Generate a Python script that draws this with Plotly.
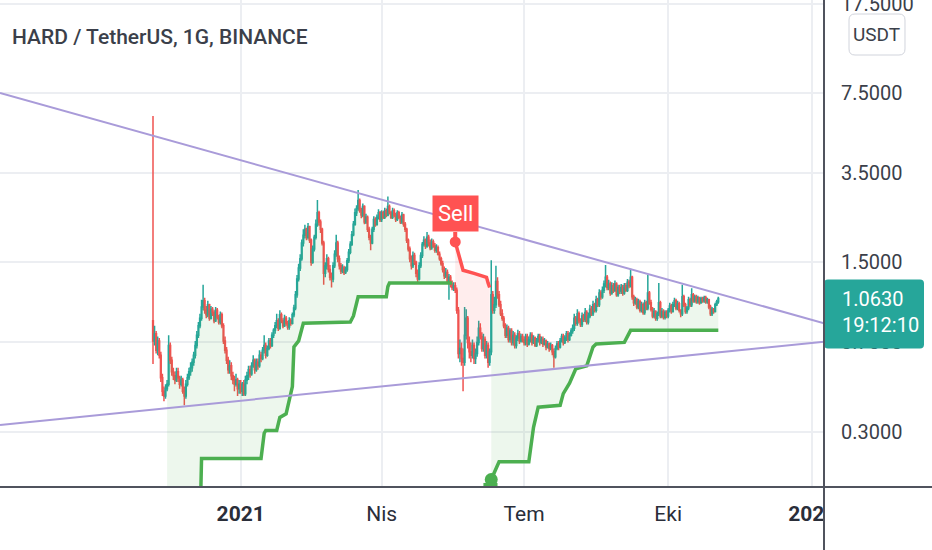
import numpy as np
import pandas as pd
import plotly.graph_objects as go

# HARD / USDT daily candles, 6 Nov 2020 -> 2 Nov 2021
first_open = 0.86
close_px = [
    0.71,0.76,0.65,0.71,0.62,0.50,0.44,0.42,0.45,0.47,0.68,0.59,0.53,0.51,0.49,0.53,0.50,0.47,0.49,0.44,0.42,0.47,0.50,0.53,0.55,
    0.58,0.62,0.68,0.75,0.82,0.88,0.98,1.04,0.95,0.91,1.00,0.88,0.96,0.93,0.86,0.95,0.89,0.85,0.91,0.82,0.71,0.65,0.59,0.54,0.56,0.51,0.49,0.47,0.49,0.45,0.47,
    0.44,0.47,0.43,0.49,0.51,0.54,0.52,0.56,0.59,0.54,0.58,0.56,0.62,0.60,0.65,0.68,0.62,0.66,0.71,0.68,0.75,0.785,0.82,0.86,0.80,0.91,0.86,0.82,0.88,0.84,0.81,
    0.86,0.84,0.91,0.97,1.10,1.28,1.42,1.55,1.80,1.94,2.05,1.90,2.10,1.85,1.50,1.70,1.90,2.15,2.40,2.20,2.05,1.80,1.35,1.45,1.55,1.40,1.30,1.28,
    1.45,1.62,1.80,1.55,1.45,1.38,1.42,1.36,1.40,1.52,1.65,1.78,1.95,2.15,2.40,2.50,2.70,2.45,2.35,2.55,2.20,2.30,2.05,1.90,1.80,2.05,2.25,2.15,2.30,2.40,2.25,
    2.40,2.30,2.45,2.35,2.55,2.40,2.30,2.45,2.35,2.25,2.40,2.30,2.20,2.35,2.15,2.05,1.85,1.70,1.55,1.45,1.60,1.50,1.35,1.28,1.45,1.60,1.78,1.85,1.75,1.90,
    1.80,1.72,1.82,1.75,1.68,1.72,1.62,1.55,1.48,1.40,1.32,1.36,1.25,1.30,1.22,1.18,1.20,1.15,0.95,0.63,0.66,0.60,0.58,0.75,0.88,0.70,0.64,0.62,0.68,0.60,0.63,
    0.70,0.80,0.74,0.66,0.72,0.62,0.68,0.58,0.64,1.10,0.95,1.00,1.25,1.10,1.00,0.92,0.88,0.82,0.75,0.80,0.72,0.78,0.70,0.75,0.68,0.73,0.76,0.71,0.74,0.72,
    0.70,0.74,0.69,0.72,0.75,0.70,0.73,0.68,0.71,0.74,0.70,0.72,0.69,0.71,0.67,0.69,0.66,0.68,0.64,0.61,0.66,0.69,0.67,0.71,0.74,0.70,0.73,0.76,0.72,0.75,0.78,
    0.80,0.88,0.84,0.92,0.86,0.83,0.90,0.87,0.93,0.85,0.90,0.96,0.92,1.00,0.95,1.05,1.00,1.12,1.08,1.15,1.22,1.30,1.18,1.22,1.12,1.20,1.15,1.22,1.10,1.18,1.14,
    1.18,1.12,1.20,1.15,1.24,1.20,1.30,1.08,1.02,1.05,0.98,1.03,0.95,1.00,0.93,1.02,0.97,1.12,1.02,0.96,0.90,0.94,0.88,0.92,1.02,0.90,0.94,0.89,0.93,0.90,
    0.95,0.99,0.94,1.00,1.04,0.97,1.01,0.95,0.92,1.08,1.00,0.94,0.97,1.05,1.00,1.10,1.04,1.08,1.03,1.07,1.02,1.06,1.04,1.07,1.03,1.05,0.98,0.92,0.96,0.94,1.00,1.03,1.063,
]
high_px = [
    6.03,0.82,0.78,0.74,0.73,0.64,0.52,0.46,0.47,0.49,0.75,0.70,0.61,0.55,0.53,0.55,0.55,0.51,0.51,0.50,0.46,0.49,0.52,0.55,0.58,
    0.60,0.64,0.71,0.78,0.85,0.92,1.05,1.21,1.07,0.99,1.04,1.01,0.99,0.98,0.95,0.98,0.97,0.91,0.94,0.93,0.84,0.74,0.67,0.61,0.59,0.58,0.53,0.51,0.52,0.50,0.49,
    0.49,0.48,0.49,0.51,0.53,0.56,0.56,0.58,0.62,0.60,0.60,0.60,0.65,0.64,0.67,0.75,0.70,0.68,0.73,0.73,0.77,0.80,0.85,0.92,0.88,0.95,0.93,0.88,0.91,0.90,0.86,
    0.89,0.88,0.93,1.00,1.14,1.33,1.48,1.62,1.86,2.05,2.14,2.08,2.18,2.12,1.88,1.76,1.95,2.25,2.71,2.45,2.25,2.08,1.84,1.50,1.62,1.58,1.46,1.36,
    1.50,1.68,1.95,1.84,1.60,1.49,1.47,1.45,1.44,1.56,1.70,1.83,2.02,2.22,2.50,2.58,2.98,2.75,2.52,2.62,2.58,2.38,2.34,2.10,1.95,2.10,2.32,2.30,2.36,2.48,2.44,
    2.46,2.44,2.52,2.50,2.80,2.60,2.44,2.52,2.50,2.40,2.46,2.45,2.34,2.42,2.38,2.20,2.08,1.88,1.74,1.60,1.66,1.64,1.52,1.40,1.50,1.65,1.82,1.92,1.88,2.00,
    1.95,1.86,1.88,1.86,1.80,1.78,1.76,1.66,1.58,1.52,1.44,1.42,1.40,1.34,1.33,1.26,1.24,1.24,1.18,0.98,0.72,0.70,0.66,0.98,0.96,0.90,0.74,0.70,0.72,0.70,0.66,
    0.74,0.86,0.84,0.77,0.76,0.74,0.71,0.70,0.66,1.53,1.14,1.08,1.45,1.30,1.14,1.04,0.96,0.90,0.84,0.83,0.82,0.80,0.80,0.78,0.77,0.75,0.79,0.78,0.76,0.76,
    0.74,0.76,0.76,0.74,0.77,0.77,0.75,0.74,0.73,0.76,0.76,0.74,0.74,0.73,0.72,0.71,0.70,0.70,0.69,0.66,0.68,0.71,0.71,0.73,0.76,0.76,0.75,0.78,0.78,0.77,0.80,
    0.83,0.92,0.90,0.96,0.94,0.88,0.93,0.92,0.97,0.95,0.93,1.00,0.99,1.04,1.02,1.09,1.07,1.16,1.15,1.19,1.26,1.46,1.33,1.27,1.25,1.24,1.23,1.26,1.24,1.21,1.21,
    1.22,1.21,1.23,1.23,1.28,1.27,1.41,1.32,1.10,1.08,1.07,1.06,1.05,1.03,1.02,1.05,1.04,1.33,1.14,1.05,0.98,0.97,0.95,0.94,1.23,1.04,0.97,0.96,0.95,0.95,
    0.97,1.02,1.01,1.03,1.07,1.06,1.04,1.03,0.96,1.21,1.10,1.02,0.99,1.08,1.07,1.17,1.12,1.10,1.10,1.09,1.08,1.08,1.08,1.09,1.09,1.07,1.06,1.00,0.98,0.97,1.02,1.05,1.08,
]
low_px = [
    0.57,0.68,0.63,0.62,0.60,0.48,0.42,0.40,0.41,0.44,0.46,0.57,0.51,0.49,0.47,0.48,0.48,0.45,0.46,0.43,0.385,0.41,0.46,0.49,0.51,
    0.53,0.56,0.60,0.66,0.73,0.80,0.86,0.95,0.92,0.88,0.89,0.86,0.87,0.90,0.84,0.85,0.87,0.83,0.83,0.80,0.69,0.63,0.57,0.52,0.52,0.49,0.47,0.44,0.46,0.42,0.43,
    0.43,0.42,0.42,0.42,0.47,0.49,0.50,0.51,0.55,0.52,0.53,0.54,0.55,0.58,0.59,0.63,0.60,0.61,0.65,0.66,0.67,0.73,0.76,0.80,0.78,0.79,0.84,0.80,0.81,0.82,0.79,
    0.79,0.82,0.83,0.89,0.95,1.07,1.25,1.38,1.52,1.74,1.88,1.85,1.86,1.80,1.45,1.48,1.66,1.86,2.10,2.12,1.98,1.76,1.21,1.30,1.40,1.36,1.26,1.18,
    1.24,1.42,1.58,1.50,1.40,1.34,1.35,1.33,1.34,1.37,1.49,1.62,1.75,1.92,2.12,2.33,2.45,2.40,2.28,2.30,2.15,2.16,2.00,1.85,1.68,1.78,2.00,2.10,2.12,2.25,2.20,
    2.20,2.26,2.26,2.30,2.32,2.36,2.26,2.26,2.30,2.20,2.22,2.26,2.16,2.16,2.10,2.00,1.80,1.66,1.50,1.40,1.42,1.46,1.30,1.22,1.26,1.42,1.56,1.74,1.70,1.72,
    1.74,1.68,1.69,1.72,1.64,1.64,1.60,1.52,1.45,1.36,1.28,1.29,1.22,1.05,1.18,1.15,1.14,1.12,0.92,0.60,0.58,0.56,0.44,0.56,0.72,0.66,0.60,0.58,0.60,0.57,0.57,
    0.61,0.68,0.72,0.64,0.64,0.60,0.60,0.55,0.56,0.62,0.92,0.92,0.97,1.06,0.98,0.90,0.86,0.80,0.73,0.73,0.70,0.70,0.68,0.68,0.66,0.66,0.71,0.69,0.70,0.70,
    0.68,0.68,0.67,0.68,0.70,0.68,0.69,0.67,0.67,0.70,0.68,0.69,0.67,0.68,0.65,0.66,0.64,0.65,0.62,0.55,0.60,0.65,0.65,0.66,0.70,0.68,0.69,0.71,0.70,0.71,0.74,
    0.76,0.78,0.82,0.82,0.84,0.81,0.81,0.85,0.85,0.83,0.83,0.88,0.90,0.90,0.93,0.93,0.98,0.98,1.05,1.06,1.12,1.18,1.15,1.15,1.09,1.10,1.12,1.13,1.08,1.08,1.11,
    1.11,1.09,1.10,1.13,1.13,1.17,1.18,1.05,0.99,1.00,0.96,0.96,0.93,0.93,0.91,0.91,0.95,0.95,1.00,0.94,0.88,0.88,0.86,0.86,0.90,0.88,0.88,0.87,0.87,0.88,
    0.88,0.93,0.92,0.93,0.98,0.95,0.95,0.93,0.89,0.90,0.98,0.92,0.92,0.95,0.98,0.98,1.02,1.02,1.01,1.01,1.00,1.01,1.02,1.02,1.01,1.01,0.96,0.90,0.90,0.92,0.93,0.99,1.01,
]
assert len(close_px) == len(high_px) == len(low_px)

# supertrend, as breakpoints: candle index -> level
up1_day = [9, 30, 31, 69, 71, 72, 79, 81, 85, 87, 89, 90, 93, 96, 126, 128, 130, 131, 149, 150, 151, 191]
up1_val = [0.12, 0.12, 0.232, 0.232, 0.295, 0.303, 0.303, 0.343, 0.355, 0.403, 0.46, 0.67, 0.71, 0.84,
           0.85, 0.90, 1.04, 1.08, 1.08, 1.19, 1.23, 1.23]
dn_day = [193, 196, 198, 205, 208, 213, 214, 215]
dn_val = [1.82, 1.57, 1.39, 1.35, 1.33, 1.30, 1.23, 1.18]
up2_day = [216, 221, 240, 243, 246, 260, 262, 266, 270, 277, 281, 283, 301, 305, 361]
up2_val = [0.19, 0.225, 0.225, 0.312, 0.378, 0.385, 0.43, 0.475, 0.545, 0.56, 0.67, 0.69, 0.70, 0.785, 0.785]

# trend lines drawn on the chart
trend_x = ["2020-07-31 07:00", "2022-01-08 12:00"]
upper_trend = [7.5, 0.84]
lower_trend = [0.319, 0.705]

price_ticks = [0.3, 0.7, 1.5, 3.5, 7.5, 17.5]
time_ticks = ["2021-01-01", "2021-04-01", "2021-07-01", "2021-10-01", "2022-01-01"]
time_labels = ["<b>2021</b>", "Nis", "Tem", "Eki", "<b>2022</b>"]

FONT = "Roboto, Liberation Sans, sans-serif"
UP, DOWN = "#26a69a", "#ef5350"
ST_GREEN, ST_RED = "#4caf50", "#ff5252"
W, H = 932, 550
PW, PH = 824, 487          # plot area in pixels
y_lo, y_hi = np.log10(0.177), np.log10(18.15)

dates = pd.date_range("2020-11-06", periods=len(close_px), freq="D")
open_px = [first_open] + close_px[:-1]
body_mid = [(o + c) / 2 for o, c in zip(open_px, close_px)]
last = close_px[-1]


def py(price):
    return (y_hi - np.log10(price)) * PH / (y_hi - y_lo)


def rpath(x0, y0, x1, y1, r):
    def P(x, y):
        return f"{x / PW:.5f},{1 - y / PH:.5f}"
    return (f"M {P(x0 + r, y0)} L {P(x1 - r, y0)} Q {P(x1, y0)} {P(x1, y0 + r)} "
            f"L {P(x1, y1 - r)} Q {P(x1, y1)} {P(x1 - r, y1)} L {P(x0 + r, y1)} "
            f"Q {P(x0, y1)} {P(x0, y1 - r)} L {P(x0, y0 + r)} Q {P(x0, y0)} {P(x0 + r, y0)} Z")


fig = go.Figure()

# supertrend fills (body middle -> supertrend level)
for days, vals, col, fillc in [(up1_day, up1_val, ST_GREEN, "rgba(76,175,80,0.10)"),
                               (dn_day, dn_val, ST_RED, "rgba(255,82,82,0.10)"),
                               (up2_day, up2_val, ST_GREEN, "rgba(76,175,80,0.10)")]:
    a, b = days[0], days[-1]
    fig.add_trace(go.Scatter(x=dates[a:b + 1], y=body_mid[a:b + 1], mode="lines",
                             line=dict(width=0), hoverinfo="skip"))
    fig.add_trace(go.Scatter(x=dates[days], y=vals, mode="lines", fill="tonexty",
                             fillcolor=fillc, line=dict(color=col, width=3.5), hoverinfo="skip"))

# trend lines
for tl in (upper_trend, lower_trend):
    fig.add_trace(go.Scatter(x=trend_x, y=tl, mode="lines",
                             line=dict(color="#a99bd9", width=2), hoverinfo="skip"))

fig.add_trace(go.Candlestick(
    x=dates, open=open_px, high=high_px, low=low_px, close=close_px,
    increasing=dict(line=dict(color=UP, width=1.5), fillcolor=UP),
    decreasing=dict(line=dict(color=DOWN, width=1.5), fillcolor=DOWN),
    whiskerwidth=0, hoverinfo="skip"))

# buy / sell markers
sell_i, buy_i = dn_day[0], up2_day[0]
fig.add_trace(go.Scatter(x=[dates[sell_i]], y=[dn_val[0]], mode="markers",
                         marker=dict(color=ST_RED, size=11), hoverinfo="skip"))
fig.add_trace(go.Scatter(x=[dates[buy_i]], y=[up2_val[0]], mode="markers",
                         marker=dict(color=ST_GREEN, size=13), hoverinfo="skip"))
fig.add_trace(go.Scatter(x=[dates[buy_i - 5], dates[buy_i + 4]], y=[0.1805, 0.1805], mode="lines",
                         line=dict(color=ST_GREEN, width=4), hoverinfo="skip"))

shapes = [
    # last price dotted line
    dict(type="line", xref="paper", x0=0, x1=1, yref="y", y0=np.log10(last), y1=np.log10(last),
         line=dict(color=UP, width=1.5, dash="dot"), layer="above"),
    # white cover right of the price scale under the time axis
    dict(type="rect", xref="paper", x0=1, x1=W / PW + 0.01, yref="paper", y0=-0.2, y1=0,
         fillcolor="white", line=dict(width=0), layer="above"),
    # price label box
    dict(type="path", xref="paper", yref="paper",
         path=rpath(PW, py(last) - 19, 924, py(last) + 50, 4),
         fillcolor=UP, line=dict(width=0), layer="above"),
    # USDT box
    dict(type="path", xref="paper", yref="paper", path=rpath(849, 14, 905, 55, 6),
         fillcolor="white", line=dict(color="#d1d4dc", width=1), layer="above"),
    # scale separators
    dict(type="line", xref="paper", yref="paper", x0=0, x1=W / PW, y0=0, y1=0,
         line=dict(color="#50535e", width=2), layer="above"),
    dict(type="line", xref="paper", yref="paper", x0=1, x1=1, y0=-(H - PH) / PH, y1=1,
         line=dict(color="#50535e", width=2), layer="above"),
]

annotations = [
    dict(text="HARD / TetherUS, 1G, BINANCE", xref="paper", yref="paper", x=10 / PW, y=1 - 37 / PH,
         xanchor="left", yanchor="middle", showarrow=False,
         font=dict(size=21, color="#3b3f4a", weight=500)),
    dict(text="Sell", x=dates[sell_i], y=np.log10(dn_val[0]), showarrow=True, ax=0, ay=-28,
         arrowhead=0, arrowwidth=4, arrowcolor=ST_RED, standoff=0, bgcolor=ST_RED, borderpad=5,
         font=dict(size=22, color="white")),
    dict(text=f"{last:.4f}<br>19:12:10", xref="paper", yref="paper", x=840 / PW,
         y=1 - (py(last) - 13) / PH, xanchor="left", yanchor="top", align="left",
         showarrow=False, font=dict(size=20, color="white")),
    dict(text="USDT", xref="paper", yref="paper", x=877 / PW, y=1 - 34 / PH,
         xanchor="center", yanchor="middle", showarrow=False, font=dict(size=19, color="#3b3f4a")),
]

fig.update_layout(
    width=W, height=H, margin=dict(l=0, r=W - PW, t=0, b=H - PH),
    paper_bgcolor="white", plot_bgcolor="white", showlegend=False, hovermode=False,
    font=dict(family=FONT, color="#131722"),
    shapes=shapes, annotations=annotations,
    xaxis=dict(type="date", range=trend_x, rangeslider=dict(visible=False),
               tickvals=time_ticks, ticktext=time_labels, tickfont=dict(size=21, color="#2a2e39"),
               showgrid=True, gridcolor="#eceef2", gridwidth=1.5, zeroline=False, showline=False,
               ticks="", ticklabelstandoff=12, automargin=False),
    yaxis=dict(type="log", side="right", range=[y_lo, y_hi],
               tickvals=price_ticks, ticktext=[f"{v:.4f}" for v in price_ticks],
               tickfont=dict(size=20, color="#3b3f4a"), ticklabeloverflow="allow",
               showgrid=True, gridcolor="#eceef2", gridwidth=1.5, zeroline=False, showline=False,
               ticks="", ticklabelstandoff=16, automargin=False),
)

fig.write_html("out.html", config={"displayModeBar": False},
               post_script="document.body.style.margin='0';")
